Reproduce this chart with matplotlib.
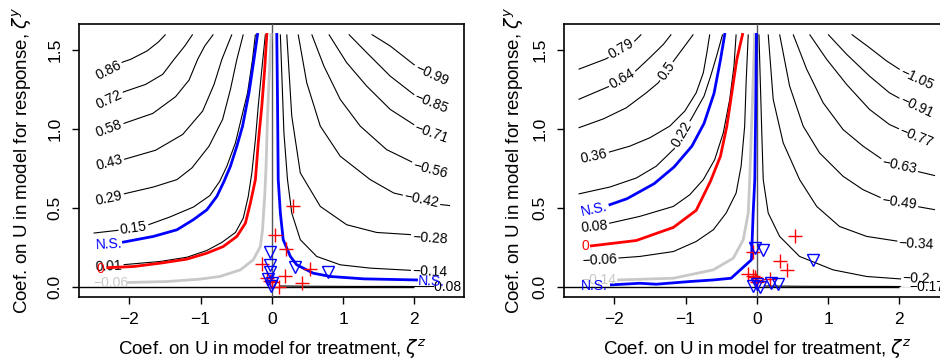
import matplotlib
matplotlib.use("Agg")
import matplotlib.pyplot as plt

plt.rcParams['font.family'] = ['Liberation Sans', 'DejaVu Sans']
plt.rcParams['axes.unicode_minus'] = True

# ---------------- Left panel: contour lines (zeta_z, zeta_y) ----------------
L_086_x = [-2.29, -2.09, -1.98, -1.75, -1.59, -1.49]
L_086_y = [1.372, 1.425, 1.442, 1.495, 1.552, 1.60]
L_072_x = [-2.28, -2.07, -1.77, -1.53, -1.37, -1.22, -1.11]
L_072_y = [1.188, 1.237, 1.283, 1.347, 1.442, 1.527, 1.60]
L_058_x = [-2.28, -2.05, -1.67, -1.35, -1.16, -1.04, -0.94, -0.82]
L_058_y = [1.002, 1.040, 1.099, 1.205, 1.311, 1.442, 1.527, 1.60]
L_043_x = [-2.28, -2.05, -1.63, -1.25, -0.97, -0.81, -0.70, -0.56]
L_043_y = [0.786, 0.811, 0.866, 0.966, 1.114, 1.283, 1.442, 1.60]
L_029_x = [-2.28, -2.06, -1.66, -1.33, -1.12, -0.88, -0.69, -0.58, -0.49, -0.40]
L_029_y = [0.563, 0.591, 0.633, 0.680, 0.754, 0.892, 1.061, 1.252, 1.442, 1.60]
L_015_x = [-2.5, -2.17, -1.94, -1.73, -1.43, -1.10, -0.87, -0.73, -0.63, -0.51, -0.42, -0.34, -0.27, -0.23]
L_015_y = [0.341, 0.358, 0.373, 0.394, 0.443, 0.506, 0.578, 0.669, 0.765, 0.913, 1.082, 1.230, 1.442, 1.60]
L_001_x = [-2.29, -2.10, -1.57, -1.19, -0.91, -0.70, -0.51, -0.40, -0.33, -0.28, -0.23, -0.19, -0.14, -0.09]
L_001_y = [0.129, 0.140, 0.161, 0.188, 0.231, 0.282, 0.345, 0.436, 0.574, 0.722, 0.934, 1.146, 1.379, 1.60]
L_m014_x = [0.12, 0.17, 0.22, 0.28, 0.40, 0.63, 0.96, 1.38, 1.99, 2.22]
L_m014_y = [1.60, 0.976, 0.680, 0.468, 0.299, 0.193, 0.140, 0.119, 0.104, 0.097]
L_m028_x = [0.21, 0.28, 0.40, 0.68, 1.05, 1.47, 1.99, 2.22]
L_m028_y = [1.60, 1.082, 0.722, 0.510, 0.394, 0.345, 0.330, 0.309]
L_m042_x = [0.37, 0.49, 0.68, 0.96, 1.38, 1.71, 2.10, 2.27, 2.5]
L_m042_y = [1.60, 1.294, 1.019, 0.828, 0.680, 0.595, 0.553, 0.527, 0.515]
L_m056_x = [0.56, 0.73, 0.96, 1.24, 1.61, 1.99, 2.22]
L_m056_y = [1.60, 1.400, 1.188, 1.019, 0.870, 0.786, 0.743]
L_m071_x = [0.80, 1.05, 1.33, 1.66, 1.99, 2.24]
L_m071_y = [1.60, 1.421, 1.273, 1.125, 1.029, 0.972]
L_m085_x = [1.08, 1.33, 1.66, 1.99, 2.24]
L_m085_y = [1.60, 1.485, 1.336, 1.220, 1.163]
L_m099_x = [1.40, 1.66, 1.99, 2.24]
L_m099_y = [1.60, 1.527, 1.410, 1.347]
L_m008_x = [0.10, 0.6, 1.2, 1.8, 2.2]
L_m008_y = [0.006, 0.004, 0.003, 0.003, 0.002]
# highlighted lines
L_ns1_x = [-2.08, -1.66, -1.33, -1.10, -0.91, -0.77, -0.67, -0.58, -0.49, -0.41, -0.32, -0.25, -0.20]
L_ns1_y = [0.284, 0.320, 0.362, 0.426, 0.489, 0.574, 0.669, 0.765, 0.892, 1.019, 1.230, 1.442, 1.60]
L_ns2_x = [0.07, 0.08, 0.09, 0.12, 0.16, 0.26, 0.35, 0.58, 0.82, 1.29, 2.03]
L_ns2_y = [1.60, 1.188, 0.680, 0.468, 0.299, 0.193, 0.140, 0.087, 0.066, 0.051, 0.044]
L_zero_x = [-2.30, -1.94, -1.57, -1.19, -0.91, -0.68, -0.49, -0.37, -0.30, -0.23, -0.19, -0.14, -0.10, -0.07]
L_zero_y = [0.122, 0.129, 0.150, 0.176, 0.214, 0.256, 0.320, 0.404, 0.532, 0.680, 0.913, 1.146, 1.379, 1.60]
L_obs_x = [-2.01, -1.47, -1.01, -0.73, -0.44, -0.26, -0.16, -0.13, -0.10, -0.08, -0.06, -0.03, -0.01]
L_obs_y = [0.028, 0.034, 0.049, 0.066, 0.108, 0.172, 0.256, 0.362, 0.574, 0.765, 1.082, 1.400, 1.60]
# covariate points
L_plus_x = [0.304, 0.047, 0.196, -0.131, 0.538, 0.187, 0.421, 0.094, -0.070, -0.023, 0.0]
L_plus_y = [0.510, 0.330, 0.241, 0.144, 0.112, 0.070, 0.023, 0.002, 0.055, 0.040, 0.028]
L_tri_x = [-0.023, -0.023, -0.023, -0.047, 0.0, 0.327, 0.795, -0.01]
L_tri_y = [0.224, 0.136, 0.097, 0.049, 0.023, 0.125, 0.097, 0.005]

# ---------------- Right panel ----------------
R_079_x = [-2.5, -2.11, -1.90, -1.71, -1.62]
R_079_y = [1.379, 1.446, 1.506, 1.559, 1.60]
R_064_x = [-2.5, -2.08, -1.89, -1.70, -1.50, -1.31, -1.20]
R_064_y = [1.188, 1.269, 1.319, 1.368, 1.453, 1.537, 1.60]
R_050_x = [-2.5, -2.15, -1.83, -1.55, -1.38, -1.27, -1.15, -1.01, -0.89]
R_050_y = [1.008, 1.065, 1.135, 1.230, 1.294, 1.368, 1.442, 1.527, 1.60]
R_036_x = [-2.28, -2.08, -1.78, -1.50, -1.22, -1.01, -0.85, -0.75, -0.70, -0.66]
R_036_y = [0.828, 0.853, 0.892, 0.945, 1.019, 1.114, 1.230, 1.357, 1.485, 1.60]
R_022_x = [-2.5, -2.06, -1.69, -1.41, -1.16, -1.05, -0.91, -0.74, -0.65, -0.57, -0.48]
R_022_y = [0.589, 0.633, 0.690, 0.765, 0.875, 0.966, 1.072, 1.209, 1.332, 1.453, 1.60]
R_008_x = [-2.28, -2.06, -1.64, -1.17, -0.94, -0.75, -0.59, -0.47, -0.38, -0.32, -0.29]
R_008_y = [0.383, 0.404, 0.447, 0.510, 0.584, 0.680, 0.807, 0.976, 1.188, 1.400, 1.60]
R_m006_x = [-2.21, -1.97, -1.64, -1.17, -0.85, -0.61, -0.43, -0.29, -0.22, -0.17, -0.15, -0.12]
R_m006_y = [0.172, 0.182, 0.193, 0.224, 0.288, 0.362, 0.468, 0.595, 0.765, 1.019, 1.294, 1.60]
R_m020_x = [0.03, 0.07, 0.09, 0.16, 0.32, 0.60, 1.07, 1.54, 2.00, 2.24]
R_m020_y = [1.60, 0.976, 0.680, 0.468, 0.320, 0.193, 0.108, 0.066, 0.051, 0.049]
R_m034_x = [0.16, 0.23, 0.37, 0.60, 0.84, 1.16, 1.54, 2.00, 2.24]
R_m034_y = [1.60, 1.188, 0.913, 0.680, 0.510, 0.383, 0.320, 0.288, 0.271]
R_m049_x = [0.32, 0.46, 0.65, 0.88, 1.21, 1.49, 1.75, 2.00, 2.24, 2.5]
R_m049_y = [1.60, 1.273, 1.019, 0.849, 0.701, 0.616, 0.563, 0.538, 0.510, 0.489]
R_m063_x = [0.51, 0.70, 0.93, 1.21, 1.49, 1.75, 2.00, 2.24, 2.5]
R_m063_y = [1.60, 1.379, 1.167, 0.997, 0.892, 0.811, 0.765, 0.733, 0.705]
R_m077_x = [0.74, 0.98, 1.26, 1.58, 1.86, 2.24]
R_m077_y = [1.60, 1.442, 1.283, 1.125, 1.029, 0.951]
R_m091_x = [1.00, 1.26, 1.58, 1.86, 2.03, 2.24]
R_m091_y = [1.60, 1.474, 1.336, 1.230, 1.188, 1.141]
R_m105_x = [1.33, 1.58, 1.82, 2.00, 2.24]
R_m105_y = [1.60, 1.516, 1.432, 1.379, 1.319]
R_m017_x = [0.10, 0.6, 1.2, 1.8, 2.2]
R_m017_y = [0.006, 0.004, 0.003, 0.003, 0.002]
R_ns1_x = [-2.06, -1.82, -1.44, -1.16, -0.91, -0.74, -0.60, -0.51, -0.45]
R_ns1_y = [0.521, 0.559, 0.654, 0.760, 0.892, 1.036, 1.226, 1.438, 1.60]
R_ns2_x = [-2.04, -1.64, -1.41, -0.94, -0.61, -0.36, -0.075, -0.051, -0.028, -0.014, -0.005]
R_ns2_y = [0.013, 0.023, 0.017, 0.034, 0.044, 0.055, 0.172, 0.468, 0.680, 1.188, 1.60]
R_zero_x = [-2.32, -1.69, -1.17, -0.85, -0.65, -0.51, -0.42, -0.35, -0.28, -0.20]
R_zero_y = [0.260, 0.294, 0.377, 0.485, 0.669, 0.828, 1.019, 1.230, 1.442, 1.60]
R_obs_x = [-1.94, -1.17, -0.61, -0.33, -0.19, -0.12, -0.10, -0.06, -0.03]
R_obs_y = [0.044, 0.055, 0.108, 0.182, 0.299, 0.468, 0.680, 1.188, 1.60]
R_plus_x = [0.532, 0.322, 0.425, 0.182, -0.051, -0.121, -0.028, -0.01, 0.0, -0.06]
R_plus_y = [0.320, 0.161, 0.104, 0.049, 0.224, 0.083, 0.061, 0.045, 0.030, 0.07]
R_tri_x = [-0.028, 0.089, 0.789, 0.205, 0.299, -0.05, 0.04, 0.0]
R_tri_y = [0.246, 0.235, 0.172, 0.023, 0.019, 0.008, -0.002, 0.02]

x_ticks = [-2, -1, 0, 1, 2]
x_ticklabels = ['\u22122', '\u22121', '0', '1', '2']
y_ticks = [0.0, 0.5, 1.0, 1.5]
y_ticklabels = ['0.0', '0.5', '1.0', '1.5']

# (line x, line y, label, label pos x, label pos y, rotation, knock-out box)
left_black = [
    (L_086_x, L_086_y, '0.86', -2.29, 1.372, 27, True),
    (L_072_x, L_072_y, '0.72', -2.28, 1.188, 25, True),
    (L_058_x, L_058_y, '0.58', -2.28, 1.002, 20, True),
    (L_043_x, L_043_y, '0.43', -2.28, 0.786, 15, True),
    (L_029_x, L_029_y, '0.29', -2.28, 0.563, 12, True),
    (L_015_x, L_015_y, '0.15', -1.94, 0.373, 8, True),
    (L_001_x, L_001_y, '0.01', -2.29, 0.129, 3, True),
    (L_m014_x, L_m014_y, '\u22120.14', 2.22, 0.097, -2, True),
    (L_m028_x, L_m028_y, '\u22120.28', 2.22, 0.309, -4, True),
    (L_m042_x, L_m042_y, '\u22120.42', 2.10, 0.553, -12, True),
    (L_m056_x, L_m056_y, '\u22120.56', 2.22, 0.743, -15, True),
    (L_m071_x, L_m071_y, '\u22120.71', 2.24, 0.972, -20, True),
    (L_m085_x, L_m085_y, '\u22120.85', 2.24, 1.163, -22, True),
    (L_m099_x, L_m099_y, '\u22120.99', 2.24, 1.347, -25, True),
    (L_m008_x, L_m008_y, '\u22120.08', 2.41, 0.0, 0, False),
]
left_color = [
    (L_obs_x, L_obs_y, '#C8C8C8', '\u22120.06', -2.25, 0.023, 0),
    (L_zero_x, L_zero_y, '#FF0000', '0', -2.41, 0.112, 0),
    (L_ns1_x, L_ns1_y, '#0000FF', 'N.S.', -2.28, 0.267, 3),
    (L_ns2_x, L_ns2_y, '#0000FF', 'N.S.', 2.24, 0.034, -2),
]
right_black = [
    (R_079_x, R_079_y, '0.79', -1.90, 1.506, 30, True),
    (R_064_x, R_064_y, '0.64', -1.89, 1.319, 30, True),
    (R_050_x, R_050_y, '0.5', -1.27, 1.368, 55, True),
    (R_036_x, R_036_y, '0.36', -2.28, 0.828, 12, True),
    (R_022_x, R_022_y, '0.22', -1.05, 0.966, 60, True),
    (R_008_x, R_008_y, '0.08', -2.28, 0.383, 6, True),
    (R_m006_x, R_m006_y, '\u22120.06', -2.21, 0.172, 3, True),
    (R_m020_x, R_m020_y, '\u22120.2', 2.24, 0.052, -2, True),
    (R_m034_x, R_m034_y, '\u22120.34', 2.24, 0.271, -3, True),
    (R_m049_x, R_m049_y, '\u22120.49', 2.00, 0.538, -8, True),
    (R_m063_x, R_m063_y, '\u22120.63', 2.00, 0.765, -12, True),
    (R_m077_x, R_m077_y, '\u22120.77', 2.24, 0.951, -22, True),
    (R_m091_x, R_m091_y, '\u22120.91', 2.24, 1.141, -25, True),
    (R_m105_x, R_m105_y, '\u22121.05', 2.24, 1.319, -25, True),
    (R_m017_x, R_m017_y, '\u22120.17', 2.38, 0.0, 0, False),
]
right_color = [
    (R_obs_x, R_obs_y, '#C8C8C8', '\u22120.14', -2.22, 0.044, 0),
    (R_zero_x, R_zero_y, '#FF0000', '0', -2.40, 0.256, 0),
    (R_ns1_x, R_ns1_y, '#0000FF', 'N.S.', -2.28, 0.493, 12),
    (R_ns2_x, R_ns2_y, '#0000FF', 'N.S.', -2.28, 0.008, 0),
]

fig = plt.figure(figsize=(9.4, 3.64), dpi=100)
W, H = 940.0, 364.0
axL = fig.add_axes([79.3 / W, 1 - 297 / H, 385 / W, 272.7 / H])
axR = fig.add_axes([564.3 / W, 1 - 297 / H, 385 / W, 272.7 / H])


def draw(ax, black, color, px, py, tx, ty, hend):
    ax.set_xlim(-2.7, 2.7)
    ax.set_ylim(-0.064, 1.664)
    for (xs, ys, lab, lx, ly, rot, box) in black:
        ax.plot(xs, ys, color='black', lw=0.8, zorder=2, solid_capstyle='butt')
        kw = dict(bbox=dict(facecolor='white', edgecolor='none', pad=1.2)) if box else {}
        ax.text(lx, ly, lab, fontsize=10, ha='center', va='center', rotation=rot,
                rotation_mode='anchor', zorder=3 if box else 4.5, **kw)
    ax.axvline(0, color='#555555', lw=1.0, zorder=4)
    ax.hlines(0, -2.7, hend, color='black', lw=1.0, zorder=4)
    for (xs, ys, c, lab, lx, ly, rot) in color:
        ax.plot(xs, ys, color=c, lw=2.0, zorder=5)
        ax.text(lx, ly, lab, fontsize=10, color=c, ha='center', va='center',
                rotation=rot, rotation_mode='anchor', zorder=6)
    ax.plot(px, py, linestyle='none', marker='+', color='#FF0000', ms=10, mew=1.0, zorder=7)
    ax.plot(tx, ty, linestyle='none', marker='v', mfc='none', mec='#0000FF', ms=8, mew=1.0, zorder=7)
    ax.set_xticks(x_ticks)
    ax.set_xticklabels(x_ticklabels)
    ax.set_yticks(y_ticks)
    ax.set_yticklabels(y_ticklabels, rotation=90, va='center')
    ax.tick_params(direction='out', length=5, width=1, labelsize=12.5)
    ax.tick_params(axis='x', pad=6)
    ax.tick_params(axis='y', pad=7)
    for s in ax.spines.values():
        s.set_linewidth(1.2)


draw(axL, left_black, left_color, L_plus_x, L_plus_y, L_tri_x, L_tri_y, 2.0)
draw(axR, right_black, right_color, R_plus_x, R_plus_y, R_tri_x, R_tri_y, 2.0)

for cx, yx in [((79.3 + 464.3) / 2 / W, 22.5 / W), ((564.3 + 949.3) / 2 / W, 514 / W)]:
    fig.text(cx, 1 - 349 / H, 'Coef. on U in model for treatment, $\\zeta^z$',
             ha='center', va='center', fontsize=13.5)
    fig.text(yx, 1 - 160.6 / H, 'Coef. on U in model for response, $\\zeta^y$',
             ha='center', va='center', rotation=90, fontsize=13.5)

fig.savefig('out.png', dpi=100)
